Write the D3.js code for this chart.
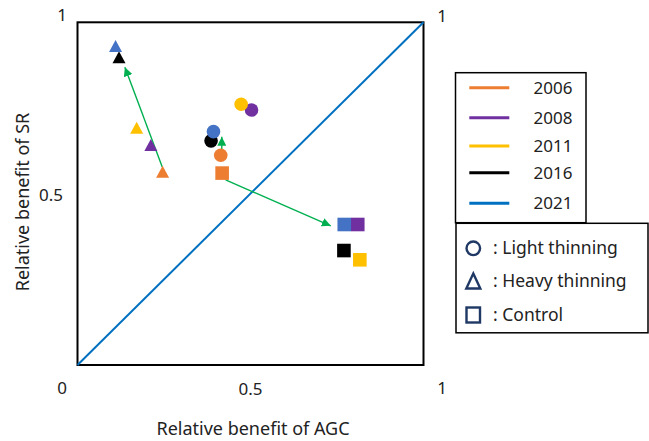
<!DOCTYPE html>
<html><head><meta charset="utf-8">
<script src="https://cdn.jsdelivr.net/npm/d3@7"></script>
<style>body{margin:0;background:#fff}svg{display:block}text{font-family:"Noto Sans","Open Sans",sans-serif;fill:#222}</style>
</head><body><svg id="c" width="649" height="441"></svg>
<script>
const years = ["2006","2008","2011","2016","2021"];
const yearColors = ["#ED7D31","#7030A0","#FFC000","#000000","#4472C4"];
const legendColors = ["#ED7D31","#7030A0","#FFC000","#000000","#0070C0"];
const treatments = ["Light thinning","Heavy thinning","Control"];
// AGC (x) and SR (y) per treatment, in year order
const lightAGC = [0.414,0.503,0.473,0.386,0.393];
const lightSR  = [0.612,0.744,0.761,0.654,0.681];
const heavyAGC = [0.246,0.212,0.171,0.120,0.110];
const heavySR  = [0.564,0.642,0.692,0.898,0.931];
const ctrlAGC  = [0.418,0.810,0.816,0.770,0.771];
const ctrlSR   = [0.560,0.410,0.307,0.334,0.410];
// green trend arrows: [x0,y0,x1,y1]
const arrows = [[0.245,0.578,0.137,0.869],[0.417,0.613,0.417,0.666],[0.428,0.540,0.732,0.406]];
const tickLabels = ["0","0.5","1"];

const svg = d3.select("#c");
const L=77.5, R=423.5, T=22.3, B=365;
const x = d3.scaleLinear().domain([0,1]).range([L,R]);
const y = d3.scaleLinear().domain([0,1]).range([B,T]);

svg.append("defs").append("marker").attr("id","ah").attr("viewBox","0 0 10 10")
  .attr("refX",10).attr("refY",5).attr("markerWidth",9).attr("markerHeight",9)
  .attr("markerUnits","userSpaceOnUse").attr("orient","auto")
  .append("path").attr("d","M0,0L10,5L0,10Z").attr("fill","#00B050");

// frame
svg.append("rect").attr("x",L).attr("y",T).attr("width",R-L).attr("height",B-T)
  .attr("fill","none").attr("stroke","#000").attr("stroke-width",2);
// diagonal
svg.append("line").attr("x1",x(0)).attr("y1",y(0)).attr("x2",x(1)).attr("y2",y(1))
  .attr("stroke","#0070C0").attr("stroke-width",2);

// tick labels (placed like the original text boxes)
const tl = svg.append("g").attr("font-size",17);
tl.append("text").attr("x",62).attr("y",388).attr("text-anchor","middle").attr("dy","0.35em").text(tickLabels[0]);
tl.append("text").attr("x",x(0.5)).attr("y",389).attr("text-anchor","middle").attr("dy","0.35em").text(tickLabels[1]);
tl.append("text").attr("x",442).attr("y",388).attr("text-anchor","middle").attr("dy","0.35em").text(tickLabels[2]);
tl.append("text").attr("x",51).attr("y",y(0.5)+1).attr("text-anchor","middle").attr("dy","0.35em").text(tickLabels[1]);
tl.append("text").attr("x",62).attr("y",15).attr("text-anchor","middle").attr("dy","0.35em").text(tickLabels[2]);
tl.append("text").attr("x",442).attr("y",16).attr("text-anchor","middle").attr("dy","0.35em").text(tickLabels[2]);

// axis titles
svg.append("text").attr("x",253).attr("y",429).attr("text-anchor","middle").attr("dy","0.35em")
  .attr("font-size",18).text("Relative benefit of AGC");
svg.append("text").attr("transform","translate(23,202) rotate(-90)").attr("text-anchor","middle").attr("dy","0.35em")
  .attr("font-size",18).text("Relative benefit of SR");

// arrows
svg.append("g").selectAll("line").data(arrows).join("line")
  .attr("x1",d=>x(d[0])).attr("y1",d=>y(d[1])).attr("x2",d=>x(d[2])).attr("y2",d=>y(d[3]))
  .attr("stroke","#00B050").attr("stroke-width",1.4).attr("marker-end","url(#ah)");

const tri = (w,h)=>`M0,${-h/2}L${w/2},${h/2}L${-w/2},${h/2}Z`;
const g = svg.append("g");
years.forEach((yr,i)=>{
  g.append("circle").attr("cx",x(lightAGC[i])).attr("cy",y(lightSR[i])).attr("r",6.8).attr("fill",yearColors[i]);
  g.append("path").attr("d",tri(13,12)).attr("transform",`translate(${x(heavyAGC[i])},${y(heavySR[i])})`).attr("fill",yearColors[i]);
  g.append("rect").attr("x",x(ctrlAGC[i])-6.8).attr("y",y(ctrlSR[i])-6.8).attr("width",13.6).attr("height",13.6).attr("fill",yearColors[i]);
});

// legend 1
const lg = svg.append("g");
lg.append("rect").attr("x",455.5).attr("y",72.7).attr("width",130.5).attr("height",150).attr("fill","#fff").attr("stroke","#000").attr("stroke-width",1.5);
const ly = [87.7,117.7,146,172.7,203.3];
years.forEach((yr,i)=>{
  lg.append("line").attr("x1",469.3).attr("x2",509.3).attr("y1",ly[i]).attr("y2",ly[i]).attr("stroke",legendColors[i]).attr("stroke-width",3);
  lg.append("text").attr("x",533.5).attr("y",ly[i]).attr("dy","0.35em").attr("font-size",17).text(yr);
});
// legend 2
lg.append("rect").attr("x",456).attr("y",223.3).attr("width",192).attr("height",109.5).attr("fill","#fff").attr("stroke","#000").attr("stroke-width",1.5);
const sy = [248.3,281,315];
const navy = "#1F3864";
lg.append("circle").attr("cx",473.3).attr("cy",sy[0]).attr("r",6.8).attr("fill","none").attr("stroke",navy).attr("stroke-width",2.4);
lg.append("path").attr("d",tri(14,15)).attr("transform",`translate(473.3,${sy[1]})`).attr("fill","none").attr("stroke",navy).attr("stroke-width",2.4);
lg.append("rect").attr("x",466.5).attr("y",sy[2]-7.5).attr("width",13.5).attr("height",15).attr("fill","none").attr("stroke",navy).attr("stroke-width",2.4);
treatments.forEach((t,i)=>{
  lg.append("text").attr("x",493).attr("y",sy[i]).attr("dy","0.35em").attr("font-size",17.5).text(": "+t);
});
</script></body></html>
